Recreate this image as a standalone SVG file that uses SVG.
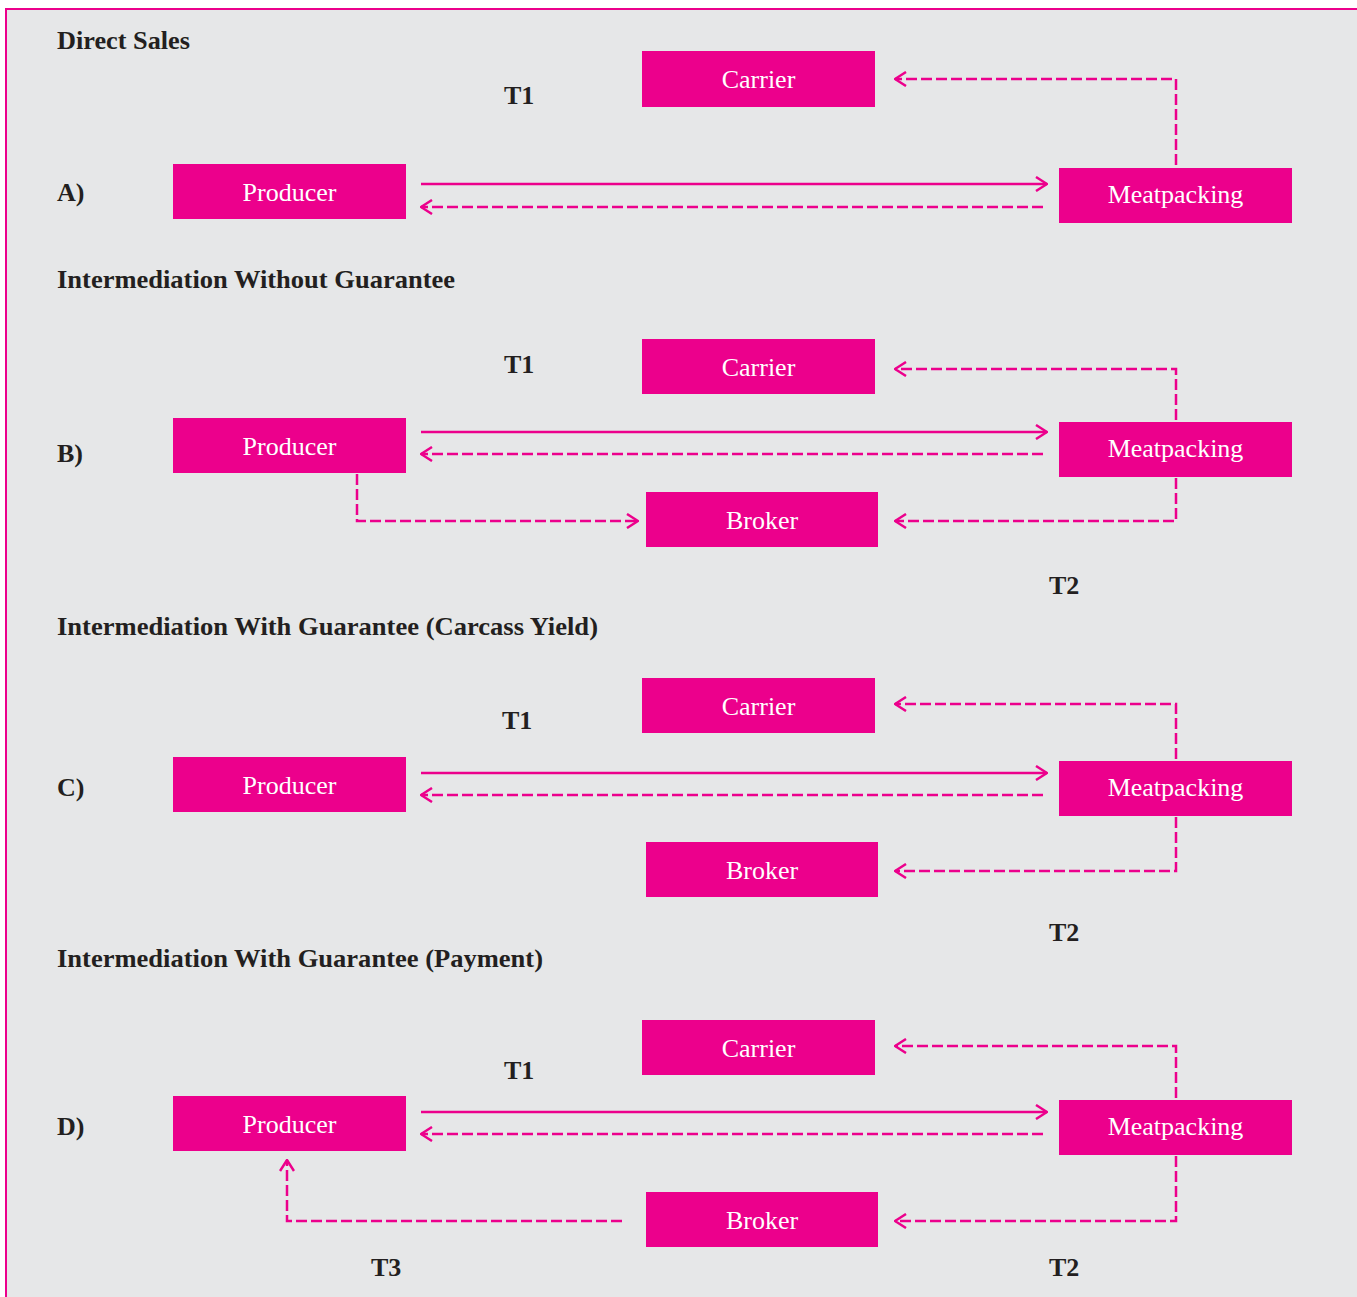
<svg xmlns="http://www.w3.org/2000/svg" width="1357" height="1297" viewBox="0 0 1357 1297">
<defs>
<style>
.bg{fill:#e6e7e8;stroke:#ec008c;stroke-width:2}
.box{fill:#ec008c}
.bt{font-family:"Liberation Serif","Times New Roman",serif;font-size:26px;fill:#ffffff;text-anchor:middle}
.lb{font-family:"Liberation Serif","Times New Roman",serif;font-size:26px;font-weight:bold;fill:#231f20}
.ln{fill:none;stroke:#ec008c;stroke-width:2.5}
.ds{stroke-dasharray:11 4}
</style>
<marker id="ah" viewBox="0 0 13 16" refX="12" refY="8" markerWidth="13" markerHeight="16" markerUnits="userSpaceOnUse" orient="auto">
<path d="M1,1 L12,8 L1,15" fill="none" stroke="#ec008c" stroke-width="2.5" stroke-dasharray="none"/>
</marker>
</defs>
<rect x="0" y="0" width="1357" height="1297" fill="#ffffff"/>
<rect class="bg" x="6" y="9" width="1360" height="1300"/>

<g id="labels">
<text class="lb" x="57" y="49" textLength="133" lengthAdjust="spacingAndGlyphs">Direct Sales</text>
<text class="lb" x="57" y="288" textLength="398" lengthAdjust="spacingAndGlyphs">Intermediation Without Guarantee</text>
<text class="lb" x="57" y="635" textLength="541" lengthAdjust="spacingAndGlyphs">Intermediation With Guarantee (Carcass Yield)</text>
<text class="lb" x="57" y="967" textLength="486" lengthAdjust="spacingAndGlyphs">Intermediation With Guarantee (Payment)</text>
<text class="lb" x="57" y="201">A)</text>
<text class="lb" x="57" y="462">B)</text>
<text class="lb" x="57" y="796">C)</text>
<text class="lb" x="57" y="1135">D)</text>
<text class="lb" x="504" y="104">T1</text>
<text class="lb" x="504" y="373">T1</text>
<text class="lb" x="502" y="729">T1</text>
<text class="lb" x="504" y="1079">T1</text>
<text class="lb" x="1049" y="594">T2</text>
<text class="lb" x="1049" y="941">T2</text>
<text class="lb" x="1049" y="1276">T2</text>
<text class="lb" x="371" y="1276">T3</text>
</g>

<g id="connectors">
<path class="ln" d="M421,184 H1047" marker-end="url(#ah)"/>
<path class="ln ds" d="M1043,207 H421" marker-end="url(#ah)"/>
<path class="ln ds" d="M1176,165 V79 H895" marker-end="url(#ah)"/>

<path class="ln" d="M421,432 H1047" marker-end="url(#ah)"/>
<path class="ln ds" d="M1043,454 H421" marker-end="url(#ah)"/>
<path class="ln ds" d="M1176,420 V369 H895" marker-end="url(#ah)"/>
<path class="ln ds" d="M357,474 V521 H638" marker-end="url(#ah)"/>
<path class="ln ds" d="M1176,478 V521 H895" marker-end="url(#ah)"/>

<path class="ln" d="M421,773 H1047" marker-end="url(#ah)"/>
<path class="ln ds" d="M1043,795 H421" marker-end="url(#ah)"/>
<path class="ln ds" d="M1176,759 V704 H895" marker-end="url(#ah)"/>
<path class="ln ds" d="M1176,817 V871 H895" marker-end="url(#ah)"/>

<path class="ln" d="M421,1112 H1047" marker-end="url(#ah)"/>
<path class="ln ds" d="M1043,1134 H421" marker-end="url(#ah)"/>
<path class="ln ds" d="M1176,1098 V1046 H895" marker-end="url(#ah)"/>
<path class="ln ds" d="M1176,1156 V1221 H895" marker-end="url(#ah)"/>
<path class="ln ds" d="M622,1221 H287 V1160" marker-end="url(#ah)"/>
</g>

<g id="A-carrier"><rect class="box" x="642" y="51" width="233" height="56"/><text class="bt" x="758.5" y="88">Carrier</text></g>
<g id="A-producer"><rect class="box" x="173" y="164" width="233" height="55"/><text class="bt" x="289.5" y="201">Producer</text></g>
<g id="A-meatpacking"><rect class="box" x="1059" y="168" width="233" height="55"/><text class="bt" x="1175.5" y="203">Meatpacking</text></g>

<g id="B-carrier"><rect class="box" x="642" y="339" width="233" height="55"/><text class="bt" x="758.5" y="376">Carrier</text></g>
<g id="B-producer"><rect class="box" x="173" y="418" width="233" height="55"/><text class="bt" x="289.5" y="455">Producer</text></g>
<g id="B-meatpacking"><rect class="box" x="1059" y="422" width="233" height="55"/><text class="bt" x="1175.5" y="457">Meatpacking</text></g>
<g id="B-broker"><rect class="box" x="646" y="492" width="232" height="55"/><text class="bt" x="762" y="529">Broker</text></g>

<g id="C-carrier"><rect class="box" x="642" y="678" width="233" height="55"/><text class="bt" x="758.5" y="715">Carrier</text></g>
<g id="C-producer"><rect class="box" x="173" y="757" width="233" height="55"/><text class="bt" x="289.5" y="794">Producer</text></g>
<g id="C-meatpacking"><rect class="box" x="1059" y="761" width="233" height="55"/><text class="bt" x="1175.5" y="796">Meatpacking</text></g>
<g id="C-broker"><rect class="box" x="646" y="842" width="232" height="55"/><text class="bt" x="762" y="879">Broker</text></g>

<g id="D-carrier"><rect class="box" x="642" y="1020" width="233" height="55"/><text class="bt" x="758.5" y="1057">Carrier</text></g>
<g id="D-producer"><rect class="box" x="173" y="1096" width="233" height="55"/><text class="bt" x="289.5" y="1133">Producer</text></g>
<g id="D-meatpacking"><rect class="box" x="1059" y="1100" width="233" height="55"/><text class="bt" x="1175.5" y="1135">Meatpacking</text></g>
<g id="D-broker"><rect class="box" x="646" y="1192" width="232" height="55"/><text class="bt" x="762" y="1229">Broker</text></g>
</svg>
